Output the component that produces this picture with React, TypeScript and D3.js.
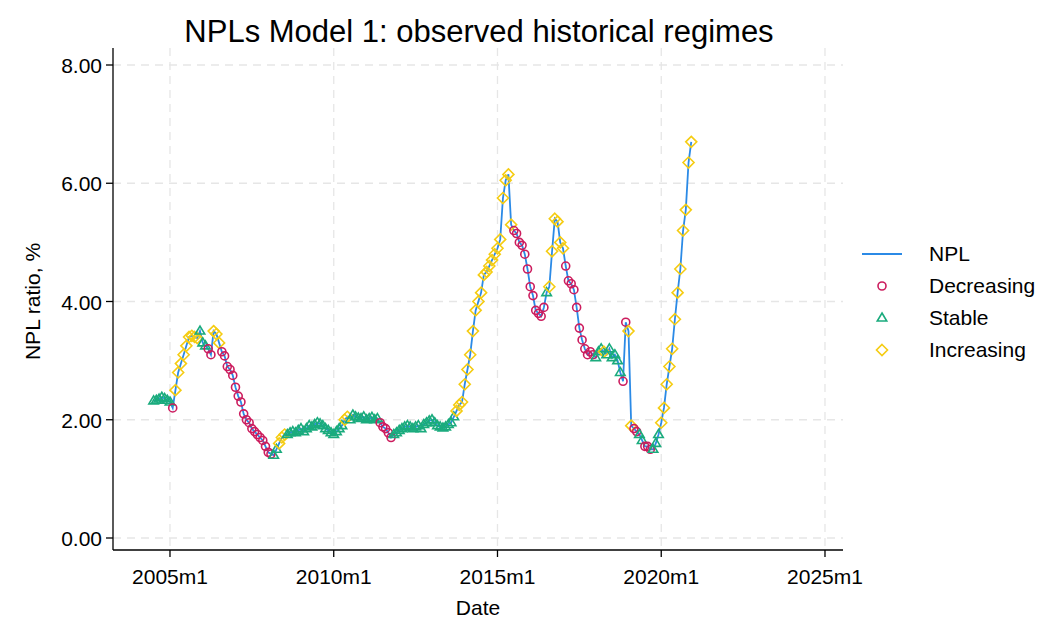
import * as d3 from "d3";

// monthly NPL ratio, last observation 2020m12
const nplValues = [
  2.32, 2.33, 2.35, 2.38, 2.36, 2.33, 2.3, 2.2, 2.5, 2.8, 2.95, 3.1, 3.25, 3.4, 3.42, 3.4, 3.38,
  3.5, 3.3, 3.25, 3.2, 3.1, 3.5, 3.45, 3.3, 3.15, 3.08, 2.9, 2.85, 2.75, 2.55, 2.4, 2.3, 2.1, 2.0,
  1.95, 1.85, 1.8, 1.75, 1.7, 1.65, 1.55, 1.45, 1.42, 1.4, 1.5, 1.6, 1.7, 1.75,
  1.75, 1.78, 1.8, 1.78, 1.82, 1.85, 1.8, 1.85, 1.9, 1.88, 1.92, 1.95, 1.93, 1.9, 1.85, 1.82, 1.78, 1.75, 1.8, 1.85, 1.9,
  2.0, 2.05, 2.0, 2.08, 2.05, 2.03, 2.02, 2.05, 2.0, 2.02, 2.04, 2.0, 2.02,
  1.95, 1.88, 1.85, 1.78, 1.7, 1.75, 1.78, 1.82, 1.85, 1.88, 1.9, 1.88, 1.85, 1.88, 1.9, 1.85, 1.92, 1.95, 1.98, 2.0, 1.95, 1.9,
  1.88, 1.86, 1.88, 1.92, 1.95, 2.05,
  2.15, 2.25, 2.3, 2.6, 2.85, 3.1, 3.5, 3.85, 4.0, 4.15, 4.45, 4.5, 4.6, 4.7, 4.8, 4.9, 5.05, 5.75, 6.05, 6.15,
  5.3, 5.2, 5.15, 5.0, 4.95, 4.8, 4.55, 4.25, 4.1, 3.85, 3.8, 3.75, 3.9,
  4.15, 4.25, 4.85, 5.4, 5.35, 5.0,
  4.9, 4.6, 4.35, 4.3, 4.2, 3.9, 3.55, 3.35, 3.2, 3.1, 3.15,
  3.1, 3.05, 3.15, 3.2, 3.15, 3.1, 3.2, 3.05, 3.1, 3.0, 2.8, 2.65, 3.65, 3.5,
  1.9, 1.85, 1.8, 1.75, 1.65, 1.55, 1.55, 1.5, 1.5, 1.6,
  1.75, 1.95, 2.2, 2.6, 2.9, 3.2, 3.7, 4.15, 4.55, 5.2, 5.55, 6.35, 6.7,
];
// D = decreasing, S = stable, I = increasing
const regimes = (
  "SSSSSSSDIIIIIIIII" + "SSSDDIIIDDDDDDDDDD" + "DDDDDDDDDSSIII" +
  "SSSSSSSSSSSSSSSSSSSSS" + "IISSSSSSSSSSS" +
  "DDDDDSSSSSSSSSSSSSSSSSS" + "SSSSSI" +
  "IIIIIIIIIIIIIIIIIIII" + "DDDDDDDDDDDDS" + "IIIIII" + "DDDDDDDDDDD" +
  "SSSISSSSSSDDII" + "DDSSDDDSSS" + "IIIIIIIIIIIII"
).split("");
const lastYear = 2020;
const lastMonth = 12;
const xTicks = [2005, 2010, 2015, 2020, 2025];
const yTicks = [0, 2, 4, 6, 8];

const W = 1063, H = 629;
const blue = "#2b8ae6", red = "#cc1d5e", green = "#1aab7d", yellow = "#f5cc12";

export default function App() {
  const n = nplValues.length;
  const data = nplValues.map((v, i) => {
    const back = n - 1 - i;
    const t = lastYear + (lastMonth - 1) / 12 - back / 12;
    return { t, v, r: regimes[i] ?? "S" };
  });
  const x = d3.scaleLinear().domain([2003.26, 2025.55]).range([113, 843]);
  const y = d3.scaleLinear().domain([0, 8]).range([538, 65]);
  const line = d3.line<{ t: number; v: number }>().x((d) => x(d.t)).y((d) => y(d.v));
  const font = "Arial, 'Liberation Sans', sans-serif";
  const tri = (cx: number, cy: number, s: number) =>
    `M${cx},${cy - s}L${cx + s * 0.95},${cy + s * 0.6}L${cx - s * 0.95},${cy + s * 0.6}Z`;
  const dia = (cx: number, cy: number, s: number) =>
    `M${cx},${cy - s}L${cx + s},${cy}L${cx},${cy + s}L${cx - s},${cy}Z`;
  const marker = (r: string, cx: number, cy: number, k: number) =>
    r === "D" ? (
      <circle key={k} cx={cx} cy={cy} r={4} fill="none" stroke={red} strokeWidth={1.6} />
    ) : r === "S" ? (
      <path key={k} d={tri(cx, cy, 5)} fill="none" stroke={green} strokeWidth={1.6} />
    ) : (
      <path key={k} d={dia(cx, cy, 5.5)} fill="none" stroke={yellow} strokeWidth={1.6} />
    );
  return (
    <svg width={W} height={H} style={{ display: "block", position: "absolute", left: 0, top: 0 }} fontFamily={font}>
      <rect width={W} height={H} fill="white" />
      <text x={479} y={42} textAnchor="middle" fontSize={31}>NPLs Model 1: observed historical regimes</text>
      {yTicks.map((t) => (
        <line key={"gy" + t} x1={113} x2={843} y1={y(t)} y2={y(t)} stroke="#e6e6e6" strokeDasharray="8,6" strokeWidth={1.3} />
      ))}
      {xTicks.map((t) => (
        <line key={"gx" + t} x1={x(t)} x2={x(t)} y1={48} y2={550} stroke="#e6e6e6" strokeDasharray="8,6" strokeWidth={1.3} />
      ))}
      <line x1={113} x2={113} y1={48} y2={550} stroke="black" strokeWidth={1.3} />
      <line x1={113} x2={843} y1={550} y2={550} stroke="black" strokeWidth={1.3} />
      {yTicks.map((t) => (
        <g key={"ty" + t}>
          <line x1={106} x2={113} y1={y(t)} y2={y(t)} stroke="black" strokeWidth={1.3} />
          <text x={102} y={y(t) + 8} textAnchor="end" fontSize={21}>{t.toFixed(2)}</text>
        </g>
      ))}
      {xTicks.map((t) => (
        <g key={"tx" + t}>
          <line x1={x(t)} x2={x(t)} y1={550} y2={557} stroke="black" strokeWidth={1.3} />
          <text x={x(t)} y={584} textAnchor="middle" fontSize={21}>{t}m1</text>
        </g>
      ))}
      <text x={478} y={615} textAnchor="middle" fontSize={21}>Date</text>
      <text transform={`translate(40,${y(4)}) rotate(-90)`} textAnchor="middle" fontSize={21}>NPL ratio, %</text>
      <path d={line(data) ?? ""} fill="none" stroke={blue} strokeWidth={1.8} />
      {data.map((d, i) => marker(d.r, x(d.t), y(d.v), i))}
      <g fontSize={21}>
        <line x1={862} x2={902} y1={254} y2={254} stroke={blue} strokeWidth={1.8} />
        <text x={929} y={261}>NPL</text>
        {marker("D", 882, 286, 1)}
        <text x={929} y={293}>Decreasing</text>
        {marker("S", 882, 318, 2)}
        <text x={929} y={325}>Stable</text>
        {marker("I", 882, 350, 3)}
        <text x={929} y={357}>Increasing</text>
      </g>
    </svg>
  );
}
